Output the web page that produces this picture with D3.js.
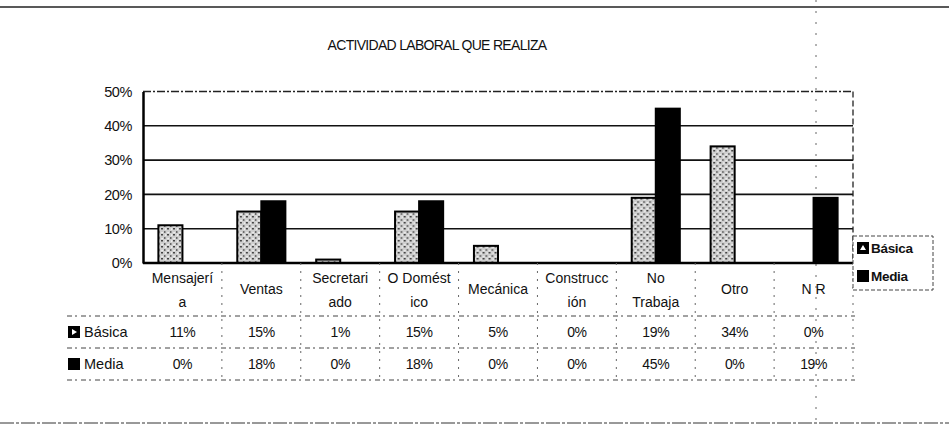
<!DOCTYPE html>
<html>
<head>
<meta charset="utf-8">
<script src="https://cdn.jsdelivr.net/npm/d3@7"></script>
<style>
  body { margin: 0; background: #fff; }
  svg { display: block; font-family: Arial, "Liberation Sans", sans-serif; }
</style>
</head>
<body>
<div id="vis"></div>
<script>
// data
const categories = ["Mensajería", "Ventas", "Secretariado", "O Doméstico", "Mecánica", "Construcción", "No Trabaja", "Otro", "N R"];
// how each label wraps in the axis cells
const categoryLines = [["Mensajerí", "a"], ["Ventas"], ["Secretari", "ado"], ["O Domést", "ico"], ["Mecánica"], ["Construcc", "ión"], ["No", "Trabaja"], ["Otro"], ["N R"]];
const seriesNames = ["Básica", "Media"];
const basica = [11, 15, 1, 15, 5, 0, 19, 34, 0];
const media = [0, 18, 0, 18, 0, 0, 45, 0, 19];
const yTicks = [0, 10, 20, 30, 40, 50];

const W = 949, H = 427;
const plot = { left: 143, right: 853, top: 91.5, bottom: 263 };
const rowTop = 316, rowH = 32;

const svg = d3.select("#vis")
  .append("svg")
    .attr("width", W)
    .attr("height", H)
    .attr("viewBox", `0 0 ${W} ${H}`);

// speckled fill for the "Básica" bars
const defs = svg.append("defs");
const pat = defs.append("pattern")
    .attr("id", "speckle")
    .attr("width", 6).attr("height", 6)
    .attr("patternUnits", "userSpaceOnUse");
pat.append("rect").attr("width", 6).attr("height", 6).attr("fill", "#cfcfcf");
pat.append("rect").attr("x", 0).attr("y", 0).attr("width", 2).attr("height", 1.5).attr("fill", "#444");
pat.append("rect").attr("x", 3).attr("y", 3).attr("width", 1.5).attr("height", 2).attr("fill", "#666");
pat.append("rect").attr("x", 4).attr("y", 0.5).attr("width", 1.2).attr("height", 1.2).attr("fill", "#fff");
pat.append("rect").attr("x", 0.5).attr("y", 4).attr("width", 1.2).attr("height", 1.2).attr("fill", "#fff");

// page frame lines of the scan
svg.append("line").attr("x1", 0).attr("x2", W).attr("y1", 7).attr("y2", 7)
    .attr("stroke", "#222").attr("stroke-width", 1.5);
svg.append("line").attr("x1", 0).attr("x2", W).attr("y1", 423).attr("y2", 423)
    .attr("stroke", "#333").attr("stroke-width", 1).attr("stroke-dasharray", "14 2 3 2");
svg.append("line").attr("x1", 816).attr("x2", 816).attr("y1", 0).attr("y2", H)
    .attr("stroke", "#666").attr("stroke-width", 1).attr("stroke-dasharray", "2 9");

// title
svg.append("text")
    .attr("x", 437).attr("y", 50)
    .attr("text-anchor", "middle")
    .attr("font-size", 14)
    .attr("letter-spacing", -0.7)
    .attr("fill", "#111")
    .text("ACTIVIDAD LABORAL QUE REALIZA");

// scales
const x0 = d3.scaleBand()
    .domain(categories)
    .range([plot.left, plot.right])
    .paddingInner(0).paddingOuter(0);
const x1 = d3.scaleBand()
    .domain(seriesNames)
    .range([0, x0.bandwidth()])
    .paddingInner(0).paddingOuter(0.64);
const y = d3.scaleLinear()
    .domain([0, 50])
    .range([plot.bottom, plot.top]);

// horizontal grid lines
svg.append("g")
    .selectAll("line")
    .data(yTicks.filter(t => t > 0 && t < 50))
    .join("line")
      .attr("x1", plot.left).attr("x2", plot.right)
      .attr("y1", d => y(d)).attr("y2", d => y(d))
      .attr("stroke", "#111").attr("stroke-width", 1.6);
// top and right border of plot area
svg.append("line")
    .attr("x1", plot.left).attr("x2", plot.right)
    .attr("y1", y(50)).attr("y2", y(50))
    .attr("stroke", "#222").attr("stroke-width", 1.3).attr("stroke-dasharray", "8 2 2 2");
svg.append("line")
    .attr("x1", plot.right).attr("x2", plot.right)
    .attr("y1", y(50)).attr("y2", y(0))
    .attr("stroke", "#222").attr("stroke-width", 1.3).attr("stroke-dasharray", "6 3");

// y axis
svg.append("g")
    .attr("transform", `translate(${plot.left},0)`)
    .call(d3.axisLeft(y).tickValues(yTicks).tickSize(0).tickPadding(11).tickFormat(d => d + "%"))
    .call(g => g.select(".domain").attr("stroke", "#000").attr("stroke-width", 2.5))
    .call(g => g.selectAll("text")
        .attr("font-size", 14.5).attr("fill", "#111").attr("letter-spacing", -0.4)
        .attr("font-family", "Arial, 'Liberation Sans', sans-serif"));

// bars
const tableData = categories.map((c, i) => ({ cat: c, values: [basica[i], media[i]] }));
const barGroups = svg.append("g")
    .selectAll("g")
    .data(tableData)
    .join("g")
      .attr("transform", d => `translate(${x0(d.cat)},0)`);
barGroups.selectAll("rect")
    .data(d => d.values.map((v, k) => ({ key: seriesNames[k], v })))
    .join("rect")
      .filter(d => d.v > 0)
      .attr("x", d => x1(d.key))
      .attr("width", x1.bandwidth())
      .attr("y", d => y(d.v))
      .attr("height", d => y(0) - y(d.v))
      .attr("fill", d => d.key === "Básica" ? "url(#speckle)" : "#000")
      .attr("stroke", "#000")
      .attr("stroke-width", 2);

// x axis line at 0%
svg.append("line")
    .attr("x1", plot.left).attr("x2", plot.right)
    .attr("y1", y(0)).attr("y2", y(0))
    .attr("stroke", "#000").attr("stroke-width", 2.5);

// data table: category labels
const tableLeft = 67, tableRight = 855;
const labelG = svg.append("g").attr("font-size", 14).attr("fill", "#111").attr("text-anchor", "middle");
categories.forEach((c, i) => {
  const lines = categoryLines[i];
  const cx = x0(c) + x0.bandwidth() / 2;
  const t = labelG.append("text").attr("x", cx);
  if (lines.length === 1) {
    t.attr("y", 294).text(lines[0]);
  } else {
    t.append("tspan").attr("x", cx).attr("y", 283).text(lines[0]);
    t.append("tspan").attr("x", cx).attr("y", 307).text(lines[1]);
  }
});

// table row separators
const rowLines = [rowTop, rowTop + rowH, rowTop + 2 * rowH];
svg.append("g")
    .selectAll("line")
    .data(rowLines)
    .join("line")
      .attr("x1", tableLeft).attr("x2", tableRight)
      .attr("y1", d => d).attr("y2", d => d)
      .attr("stroke", "#444").attr("stroke-width", 1)
      .attr("stroke-dasharray", "5 3 2 4");
// column separators
svg.append("g")
    .selectAll("line")
    .data(categories.slice(1).map(c => x0(c)).concat([plot.right]))
    .join("line")
      .attr("x1", d => d).attr("x2", d => d)
      .attr("y1", y(0)).attr("y2", rowTop + 2 * rowH)
      .attr("stroke", "#666").attr("stroke-width", 1)
      .attr("stroke-dasharray", "2 6");

// table rows
const rows = [{ name: "Básica", vals: basica }, { name: "Media", vals: media }];
rows.forEach((r, k) => {
  const cy = rowTop + rowH * k + rowH / 2 + 5;
  // row marker
  svg.append("rect")
      .attr("x", 68).attr("y", cy - 11).attr("width", 12).attr("height", 12)
      .attr("fill", "#000");
  if (r.name === "Básica") {
    svg.append("path")
        .attr("d", `M72,${cy - 8} L77,${cy - 5} L72,${cy - 2} Z`)
        .attr("fill", "#fff");
  }
  svg.append("text")
      .attr("x", 84).attr("y", cy)
      .attr("font-size", 14.5).attr("fill", "#111")
      .text(r.name);
  svg.append("g")
      .selectAll("text")
      .data(r.vals)
      .join("text")
        .attr("x", (d, i) => x0(categories[i]) + x0.bandwidth() / 2)
        .attr("y", cy)
        .attr("text-anchor", "middle")
        .attr("font-size", 14).attr("fill", "#111").attr("letter-spacing", -0.4)
        .text(d => d + "%");
});

// legend
const leg = svg.append("g").attr("transform", "translate(853,236)");
leg.append("rect")
    .attr("width", 80).attr("height", 54)
    .attr("fill", "#fff")
    .attr("stroke", "#444").attr("stroke-width", 1)
    .attr("stroke-dasharray", "4 2");
seriesNames.forEach((s, k) => {
  const ly = 17 + k * 28;
  leg.append("rect")
      .attr("x", 4).attr("y", ly - 11).attr("width", 12).attr("height", 12)
      .attr("fill", "#000");
  if (k === 0) {
    leg.append("path")
        .attr("d", `M7,${ly - 3} L10,${ly - 8} L13,${ly - 3} Z`)
        .attr("fill", "#fff");
  }
  leg.append("text")
      .attr("x", 18).attr("y", ly)
      .attr("font-size", 13.5).attr("font-weight", "bold").attr("fill", "#111")
      .attr("letter-spacing", -0.3)
      .text(s);
});
</script>
</body>
</html>
